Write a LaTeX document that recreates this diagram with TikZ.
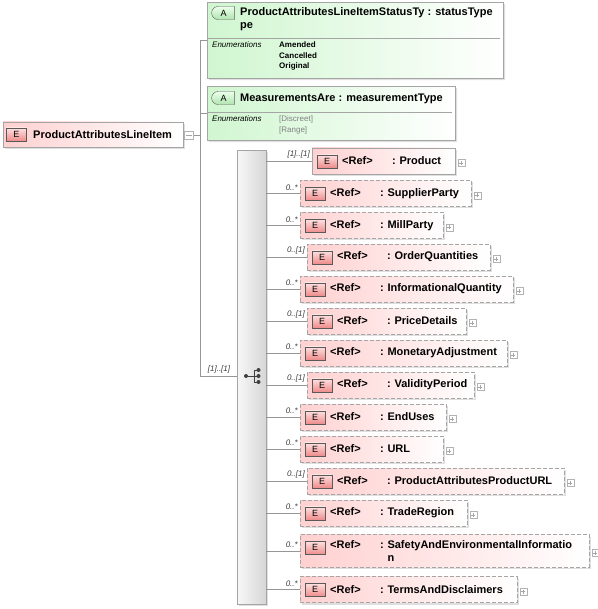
\documentclass[tikz,border=0pt]{standalone}
\usepackage{fontspec}
\setmainfont{Liberation Sans}
\usetikzlibrary{positioning, calc, shadows, shapes.misc}
\definecolor{ElPink}{RGB}{255,208,208}
\definecolor{BadgeRed}{RGB}{238,140,140}
\definecolor{AttrGreen}{RGB}{208,246,208}
\definecolor{BadgeGreen}{RGB}{176,228,176}
\definecolor{LineGray}{RGB}{150,150,150}
\definecolor{BorderGray}{RGB}{165,165,165}
\definecolor{CardGray}{RGB}{60,60,60}
\newcommand{\titlefont}{\fontsize{11}{13}\selectfont\bfseries\hyphenpenalty=10000\relax}
\tikzset{
	conn/.style={draw=LineGray, line width=0.6pt},
	shady/.style={drop shadow={shadow xshift=2pt, shadow yshift=-2pt, opacity=.25, fill=gray}},
	elbox/.style={draw=BorderGray, left color=ElPink, right color=white, shady,
		minimum height=26pt, inner xsep=5pt, inner ysep=6pt, anchor=west, align=left, font=\titlefont},
	refbox/.style={elbox, dash pattern=on 4pt off 2pt},
	ebadge/.style={draw=gray!70!black, top color=red!12, bottom color=BadgeRed,
		minimum width=20pt, minimum height=13pt, inner sep=0pt, font=\fontsize{9}{9}\selectfont},
	abadge/.style={rounded rectangle, rounded rectangle right arc=none, draw=gray!70!black,
		top color=green!8, bottom color=BadgeGreen, minimum width=23pt, minimum height=13pt,
		inner sep=0pt, font=\fontsize{9}{9}\selectfont},
	attrbox/.style={chamfered rectangle, chamfered rectangle xsep=4pt, chamfered rectangle ysep=4pt,
		draw=BorderGray, left color=AttrGreen, right color=white, shady, anchor=north west, inner sep=0pt},
	seqbar/.style={draw=BorderGray, left color=gray!6, right color=gray!32, shady, anchor=north west, inner sep=0pt},
	plusbox/.style={draw=gray!60, fill=white, minimum size=7pt, inner sep=0pt,
		path picture={\draw[gray!70] ([xshift=1.5pt]path picture bounding box.west) -- ([xshift=-1.5pt]path picture bounding box.east)
			([yshift=1.5pt]path picture bounding box.south) -- ([yshift=-1.5pt]path picture bounding box.north);}},
	minusbox/.style={draw=gray!60, fill=white, minimum width=9pt, minimum height=8pt, inner sep=0pt,
		path picture={\draw[gray!70] ([xshift=1.5pt]path picture bounding box.west) -- ([xshift=-1.5pt]path picture bounding box.east);}},
	card/.style={font=\fontsize{8}{9}\selectfont\itshape, text=CardGray, inner sep=0pt},
	enumlbl/.style={font=\fontsize{8}{9}\selectfont\itshape, inner sep=0pt, anchor=base west},
	enumval/.style={font=\fontsize{8}{9}\selectfont\bfseries, inner sep=0pt, anchor=base west},
	enumdim/.style={font=\fontsize{8}{9}\selectfont, text=gray, inner sep=0pt, anchor=base west},
	seqdot/.style={fill=black!75},
}

\begin{document}
\begin{tikzpicture}[x=1pt, y=-1pt]
\useasboundingbox (0,0) rectangle (597,609);

% root element
\node[elbox, text width=170pt, minimum height=25pt] (main) at (3,134.5) {\hspace*{25pt}ProductAttributesLineItem};
\node[ebadge] (mainE) at ($(main.west)+(13.5,0)$) {E};
\node[minusbox] (minus) at ($(main.east)+(5.5,0.5)$) {};
\coordinate (jn) at (200,0);

% attributes
\node[attrbox, minimum width=296pt, minimum height=76pt] (attr1) at (207,2) {};
\node[abadge] (a1) at (223.5,13) {A};
\node[font=\titlefont, anchor=base west, inner sep=0pt] (a1t) at (240,16) {ProductAttributesLineItemStatusTy : statusType};
\node[font=\titlefont, anchor=base west, inner sep=0pt] (a1u) at (240,29) {pe};
\draw[draw=BorderGray] (208,38) -- (500,38);
\node[enumlbl] (en1) at (212,48) {Enumerations};
\node[enumval] (v11) at (279,48) {Amended};
\node[enumval] (v12) at (279,58.5) {Cancelled};
\node[enumval] (v13) at (279,69) {Original};

\node[attrbox, minimum width=248pt, minimum height=54pt] (attr2) at (207,86) {};
\node[abadge] (a2) at (223.5,98) {A};
\node[font=\titlefont, anchor=base west, inner sep=0pt] (a2t) at (240,101.5) {MeasurementsAre : measurementType};
\draw[draw=BorderGray] (208,112) -- (452,112);
\node[enumlbl] (en2) at (212,122) {Enumerations};
\node[enumdim] (v21) at (279,122) {[Discreet]};
\node[enumdim] (v22) at (279,132.5) {[Range]};

% sequence
\node[seqbar, minimum width=29pt, minimum height=454pt] (bar) at (237,150) {};
\coordinate (sq) at (246,376);
\draw[black!75, line width=0.9pt] (sq) -- ($(sq)+(8,0)$);
\draw[black!75, line width=0.9pt] ($(sq)+(8,-6)$) -- ($(sq)+(8,6)$);
\fill[seqdot] (sq) circle (2pt);
\foreach \dy in {-6,0,6} {
	\draw[black!75, line width=0.9pt] ($(sq)+(8,\dy)$) -- ($(sq)+(12,\dy)$);
	\fill[seqdot] ($(sq)+(12.5,\dy)$) circle (2pt);
}

\draw[conn] (minus.east) -- (minus.east -| jn);
\draw[conn] (attr1.west) -| (jn |- sq) -- (bar.west |- sq);
\draw[conn] (attr2.west) -- (attr2.west -| jn);
\node[card, anchor=south] (seqcard) at ($(jn |- sq)+(19,-3)$) {[1]..[1]};

% children of the sequence
\foreach \cy/\lx/\bw/\card/\nm/\sty [count=\i] in {
	161/312/143/{[1]..[1]}/Product/elbox,
	193.5/300/171/{0..*}/SupplierParty/refbox,
	225.5/300/143/{0..*}/MillParty/refbox,
	257/307/183/{0..[1]}/OrderQuantities/refbox,
	289/300/213/{0..*}/InformationalQuantity/refbox,
	321/307/159/{0..[1]}/PriceDetails/refbox,
	353/300/207/{0..*}/MonetaryAdjustment/refbox,
	385/307/167/{0..[1]}/ValidityPeriod/refbox,
	417/300/146/{0..*}/EndUses/refbox,
	449/300/143/{0..*}/URL/refbox,
	481/307/257/{0..[1]}/ProductAttributesProductURL/refbox,
	513/300/167/{0..*}/TradeRegion/refbox,
	551/300/289/{0..*}/{SafetyAndEnvironmentalInformatio\\\hspace*{75pt}\phantom{:\ }n}/refbox,
	589.5/300/217/{0..*}/TermsAndDisclaimers/refbox}{
	\pgfmathsetmacro\tw{\bw-10}
	\node[\sty, text width=\tw pt] (c\i) at (\lx,\cy) {\hspace*{25pt}\makebox[50pt][l]{<Ref>}:~\nm};
	\node[ebadge] (e\i) at ($(c\i.north west)+(15,13.5)$) {E};
	\node[plusbox] (p\i) at ($(c\i.east)+(6,2)$) {};
	\draw[conn] (bar.east |- c\i.west) -- (c\i.west);
	\node[card, anchor=south east] (k\i) at ($(c\i.west)+(-2,-3)$) {\card};
}
\end{tikzpicture}
\end{document}
